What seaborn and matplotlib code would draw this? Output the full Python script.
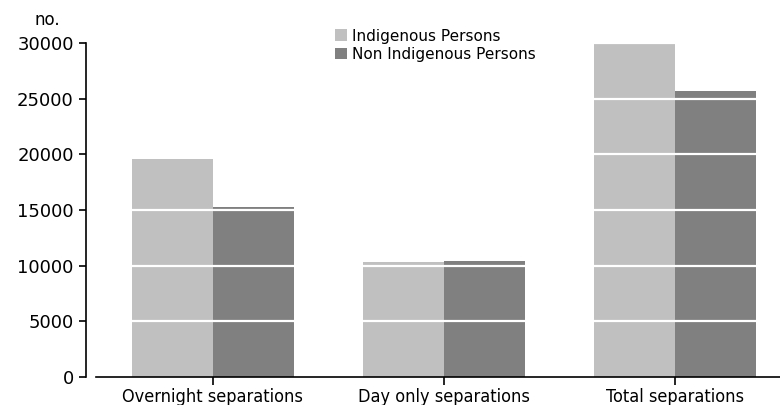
import matplotlib
matplotlib.use("Agg")
import matplotlib.pyplot as plt
import seaborn as sns
import pandas as pd

sns.set_style("ticks")
plt.rcParams['font.family'] = ['DejaVu Sans']
plt.rcParams['text.color'] = 'black'
plt.rcParams['xtick.color'] = 'black'
plt.rcParams['ytick.color'] = 'black'
plt.rcParams['axes.edgecolor'] = 'black'

categories = ["Overnight separations", "Day only separations", "Total separations"]
groups = ["Indigenous Persons", "Non Indigenous Persons"]
indigenous = [19550, 10350, 29900]
non_indigenous = [15300, 10400, 25700]
yticks = [0, 5000, 10000, 15000, 20000, 25000, 30000]

df = pd.DataFrame({
    "category": categories * 2,
    "group": [groups[0]] * 3 + [groups[1]] * 3,
    "value": indigenous + non_indigenous,
})

fig = plt.figure(figsize=(7.8, 4.05), dpi=100)
ax = fig.add_axes([96 / 780, 28 / 405, 684 / 780, 334 / 405])

sns.barplot(data=df, x="category", y="value", hue="group",
            palette=["#c0c0c0", "#808080"], width=0.7, saturation=1,
            linewidth=0, ax=ax, zorder=1)

# white gridlines over the bars
for y in yticks[1:]:
    ax.axhline(y, color="white", lw=1.6, zorder=3)

ax.set_ylim(0, 30000)
ax.set_xlim(-0.506, 2.455)
ax.set_yticks(yticks)
ax.set_xlabel("")
ax.set_ylabel("")

for s in ["top", "right"]:
    ax.spines[s].set_visible(False)
ax.spines["left"].set_position(("outward", 7))
ax.spines["left"].set_linewidth(1.2)
ax.spines["bottom"].set_linewidth(1.2)
ax.tick_params(axis="y", left=True, direction="out", length=5, width=1.2, labelsize=13, pad=4)
ax.tick_params(axis="x", bottom=True, direction="out", length=6, width=1.2, pad=2)
for lab in ax.get_xticklabels():
    lab.set_family("DejaVu Sans")
    lab.set_stretch("condensed")
    lab.set_fontsize(13)

fig.text(47 / 780, 1 - 20 / 405, "no.", fontsize=12, ha="center", va="center")

h, l = ax.get_legend_handles_labels()
ax.legend(h, l, loc="upper left", bbox_to_anchor=(327 / 780, 1 - 21 / 405),
          bbox_transform=fig.transFigure, frameon=False, fontsize=11,
          handlelength=0.8, handleheight=0.8, handletextpad=0.35,
          labelspacing=0.2, borderpad=0)

fig.savefig("out.png", dpi=100)
